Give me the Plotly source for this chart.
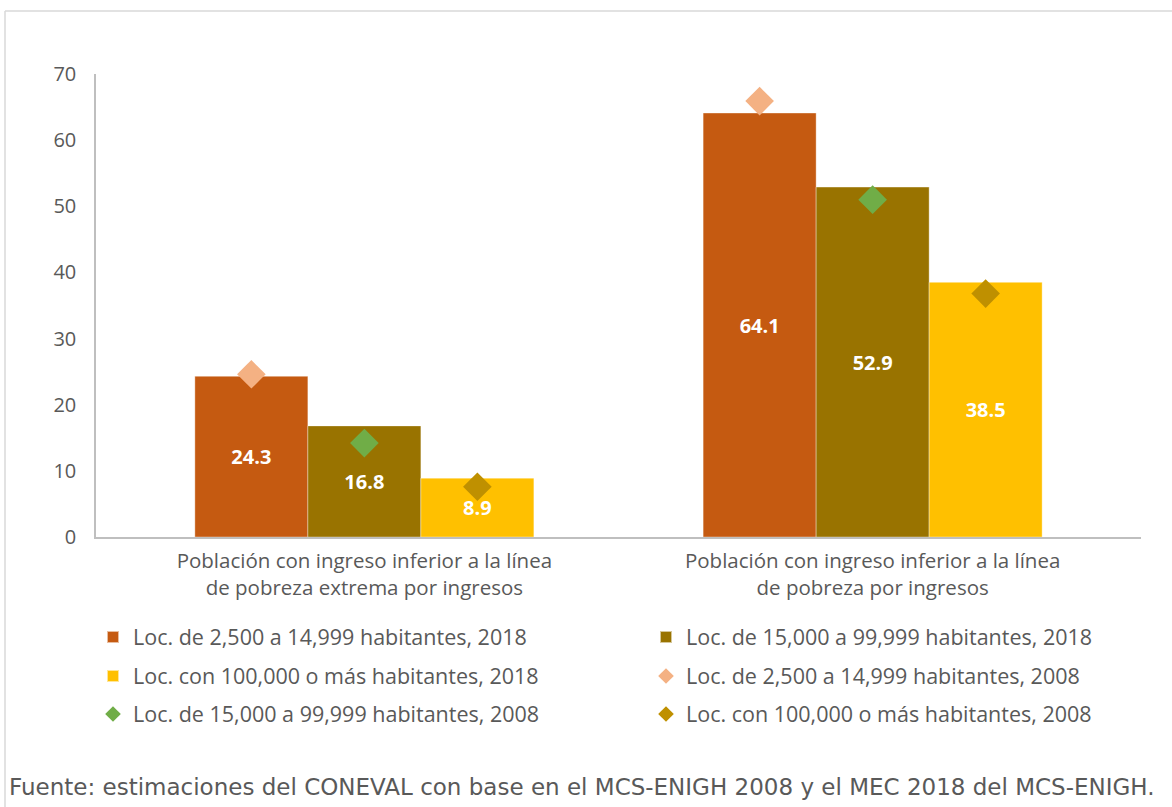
import plotly.graph_objects as go

categories = ["Población con ingreso inferior a la línea<br>de pobreza extrema por ingresos",
              "Población con ingreso inferior a la línea<br>de pobreza por ingresos"]
cat_keys = ["extrema", "pobreza"]

bar_names = ["Loc. de 2,500 a 14,999 habitantes, 2018",
             "Loc. de 15,000 a 99,999 habitantes, 2018",
             "Loc. con 100,000 o más habitantes, 2018"]
bar_2018_small = [24.3, 64.1]
bar_2018_mid = [16.8, 52.9]
bar_2018_large = [8.9, 38.5]

dia_names = ["Loc. de 2,500 a 14,999 habitantes, 2008",
             "Loc. de 15,000 a 99,999 habitantes, 2008",
             "Loc. con 100,000 o más habitantes, 2008"]
dia_2008_small = [24.6, 65.9]
dia_2008_mid = [14.2, 51.0]
dia_2008_large = [7.6, 36.8]

bar_colors = ["#C55A11", "#997300", "#FFC000"]
dia_colors = ["#F4B183", "#70AD47", "#BF9000"]

FONT = "Open Sans"
GRAY = "#595959"

# plot area in pixels
L, R, T, B = 96, 31, 74, 270
W, H = 1172, 807
PW, PH = W - L - R, H - T - B


def px_x(px):
    return (px - L) / PW


def px_y(py):
    return (H - B - py) / PH


fig = go.Figure()

bars = [bar_2018_small, bar_2018_mid, bar_2018_large]
dias = [dia_2008_small, dia_2008_mid, dia_2008_large]
groups = ["g1", "g2", "g3"]
bar_legends = ["legend", "legend2", "legend3"]
dia_legends = ["legend4", "legend5", "legend6"]

for i in range(3):
    fig.add_trace(go.Bar(
        x=cat_keys, y=bars[i], name=bar_names[i],
        marker=dict(color=bar_colors[i], line=dict(width=0.6, color="rgba(255,255,255,0.6)")),
        offsetgroup=groups[i],
        text=[f"{v:.1f}" for v in bars[i]], textposition="inside",
        insidetextanchor="middle", textangle=0,
        textfont=dict(family=FONT, size=20, color="white", weight="bold"),
        legend=bar_legends[i],
    ))

for i in range(3):
    fig.add_trace(go.Scatter(
        x=cat_keys, y=dias[i], name=dia_names[i], mode="markers",
        marker=dict(symbol="diamond", size=22, color=dia_colors[i]),
        offsetgroup=groups[i],
        legend=dia_legends[i],
    ))

legend_common = dict(
    orientation="h", xanchor="left", yanchor="middle",
    font=dict(family=FONT, size=21.5, color=GRAY),
    bgcolor="rgba(0,0,0,0)", itemsizing="constant",
)
col_x = [px_x(93), px_x(646)]
row_y = [px_y(637), px_y(676), px_y(714)]
# order: row-major, two columns
legend_pos = {
    "legend": (col_x[0], row_y[0]),
    "legend2": (col_x[1], row_y[0]),
    "legend3": (col_x[0], row_y[1]),
    "legend4": (col_x[1], row_y[1]),
    "legend5": (col_x[0], row_y[2]),
    "legend6": (col_x[1], row_y[2]),
}
legend_layout = {k: dict(legend_common, x=v[0], y=v[1]) for k, v in legend_pos.items()}

fig.update_layout(
    width=W, height=H,
    margin=dict(l=L, r=R, t=T, b=B, pad=0),
    paper_bgcolor="white", plot_bgcolor="white",
    barmode="group", bargap=0.333, bargroupgap=0,
    scattermode="group", scattergap=0.333,
    font=dict(family=FONT, color=GRAY),
    showlegend=True,
    **legend_layout,
    xaxis=dict(
        range=[-0.528, 1.528], tickvals=cat_keys, ticktext=categories,
        showline=True, linecolor="#BFBFBF", linewidth=1.5,
        showgrid=False, ticks="", tickfont=dict(family=FONT, size=20.5, color=GRAY),
        zeroline=False, ticklabelstandoff=5,
    ),
    yaxis=dict(
        range=[0, 70], tickvals=[0, 10, 20, 30, 40, 50, 60, 70],
        showline=True, linecolor="#BFBFBF", linewidth=1.5,
        showgrid=False, ticks="", zeroline=False,
        tickfont=dict(family=FONT, size=20, color=GRAY),
        ticklabelstandoff=14,
    ),
    shapes=[
        dict(type="line", xref="paper", yref="paper", x0=px_x(5), x1=px_x(1175), y0=px_y(11), y1=px_y(11),
             line=dict(color="#D9D9D9", width=1.5)),
        dict(type="line", xref="paper", yref="paper", x0=px_x(5), x1=px_x(5), y0=px_y(11), y1=px_y(810),
             line=dict(color="#D9D9D9", width=1.5)),
    ],
    annotations=[
        dict(text="Fuente: estimaciones del CONEVAL con base en el MCS-ENIGH 2008 y el MEC 2018 del MCS-ENIGH.",
             xref="paper", yref="paper", x=px_x(7), y=px_y(787), xanchor="left", yanchor="middle",
             showarrow=False, font=dict(family="DejaVu Sans", size=23, color=GRAY)),
    ],
)

fig.write_html("out.html", config={"displayModeBar": False},
               post_script="document.body.style.margin='0';")
